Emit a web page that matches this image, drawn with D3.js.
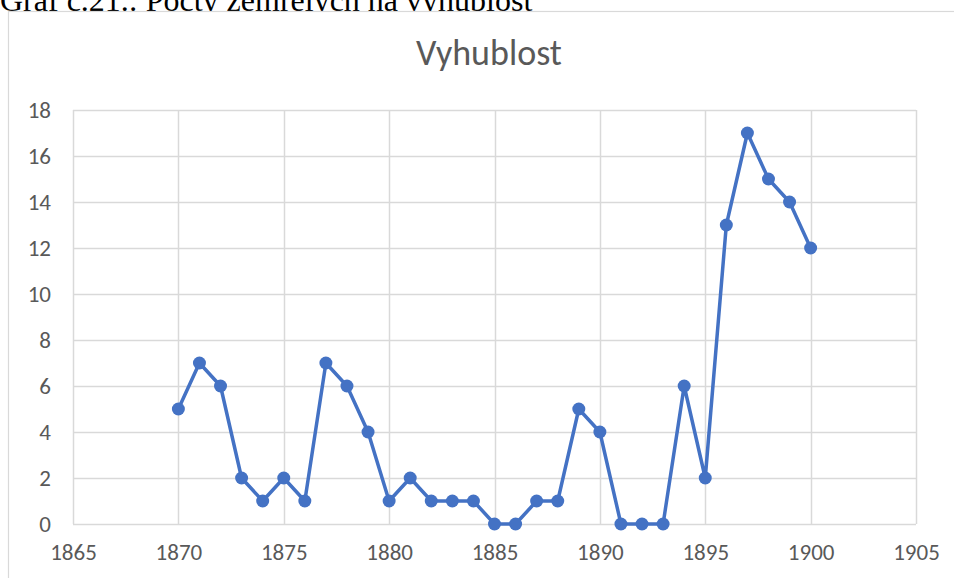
<!DOCTYPE html>
<html><head><meta charset="utf-8">
<script src="https://cdn.jsdelivr.net/npm/d3@7"></script>
<style>body{margin:0;background:#fff;}svg{display:block;}</style>
</head><body>
<script>
const years = [1870,1871,1872,1873,1874,1875,1876,1877,1878,1879,1880,1881,1882,1883,1884,1885,1886,1887,1888,1889,1890,1891,1892,1893,1894,1895,1896,1897,1898,1899,1900];
const values = [5,7,6,2,1,2,1,7,6,4,1,2,1,1,1,0,0,1,1,5,4,0,0,0,6,2,13,17,15,14,12];
const xTicks = [1865,1870,1875,1880,1885,1890,1895,1900,1905];
const yTicks = [0,2,4,6,8,10,12,14,16,18];
const chartTitle = "Vyhublost";
const caption = "Graf č.21.: Počty zemřelých na vyhublost";

const W = 954, H = 578;
const FONT = "Carlito, Calibri, 'Open Sans', sans-serif";
const svg = d3.select("body").append("svg").attr("width", W).attr("height", H);

svg.append("text").attr("x", 0).attr("y", 11)
  .attr("font-family", "Liberation Serif, Times New Roman, serif").attr("font-size", 32)
  .attr("fill", "#000").text(caption);

svg.append("rect").attr("x", 8.5).attr("y", 11.5).attr("width", 960).attr("height", 590)
  .attr("fill", "#fff").attr("stroke", "#d9d9d9").attr("stroke-width", 1.2);

const x = d3.scaleLinear().domain([1865,1905]).range([73, 916]);
const y = d3.scaleLinear().domain([0,18]).range([524, 110]);

svg.append("text").attr("x", 489).attr("y", 65).attr("text-anchor", "middle")
  .attr("font-family", FONT).attr("font-size", 36)
  .attr("fill", "#595959").text(chartTitle);

const g = svg.append("g");
g.selectAll("line.h").data(yTicks).join("line")
  .attr("x1", x(1865)).attr("x2", x(1905))
  .attr("y1", d => Math.round(y(d)) + 0.5).attr("y2", d => Math.round(y(d)) + 0.5)
  .attr("stroke", "#d9d9d9").attr("stroke-width", 1.5);
g.selectAll("line.v").data(xTicks).join("line")
  .attr("y1", y(0)).attr("y2", y(18))
  .attr("x1", d => Math.round(x(d)) + 0.5).attr("x2", d => Math.round(x(d)) + 0.5)
  .attr("stroke", "#d9d9d9").attr("stroke-width", 1.5);

const yAxis = d3.axisLeft(y).tickValues(yTicks).tickSize(0).tickPadding(22);
const ya = svg.append("g").attr("transform", `translate(${x(1865)},0)`).call(yAxis);
ya.select(".domain").remove();
ya.selectAll("text").attr("font-family", FONT).attr("font-size", 23).attr("fill", "#595959");

const xAxis = d3.axisBottom(x).tickValues(xTicks).tickFormat(d3.format("d")).tickSize(0).tickPadding(20);
const xa = svg.append("g").attr("transform", `translate(0,${y(0)})`).call(xAxis);
xa.select(".domain").remove();
xa.selectAll("text").attr("font-family", FONT).attr("font-size", 23).attr("fill", "#595959");

const data = years.map((yr, i) => ({yr, v: values[i]}));
svg.append("path").datum(data)
  .attr("fill", "none").attr("stroke", "#4472C4").attr("stroke-width", 3.5).attr("stroke-linejoin", "round")
  .attr("d", d3.line().x(d => x(d.yr)).y(d => y(d.v)));
svg.selectAll("circle.pt").data(data).join("circle")
  .attr("cx", d => x(d.yr)).attr("cy", d => y(d.v)).attr("r", 6.5).attr("fill", "#4472C4");
</script>
</body></html>
